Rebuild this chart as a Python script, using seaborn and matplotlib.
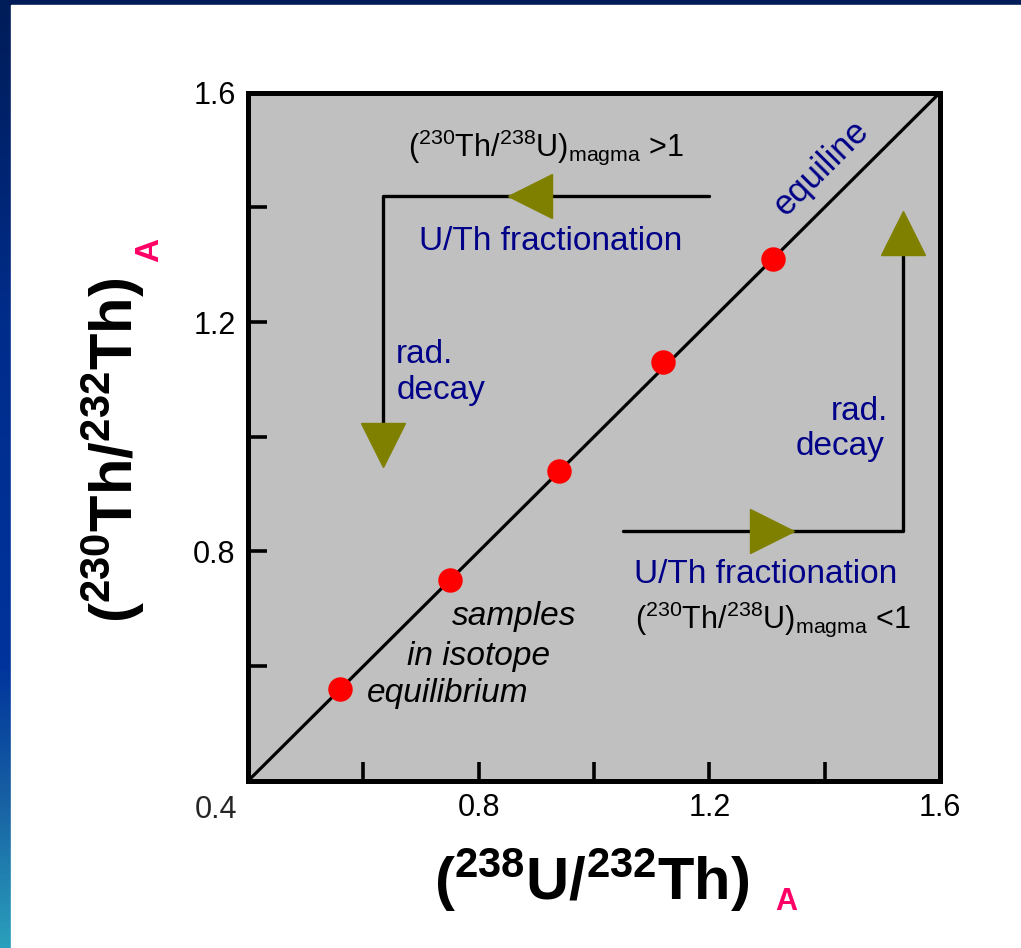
import numpy as np
import pandas as pd
import matplotlib
matplotlib.use("Agg")
import matplotlib.pyplot as plt
import seaborn as sns
from matplotlib.colors import LinearSegmentedColormap
from matplotlib.patches import Rectangle

# ---------------- data ----------------
sample_x = [0.56, 0.75, 0.94, 1.12, 1.31]
sample_y = [0.56, 0.75, 0.94, 1.13, 1.31]
equiline = [0.4, 1.6]
ticks = [0.4, 0.6, 0.8, 1.0, 1.2, 1.4, 1.6]
tick_labels = ["", "", "0.8", "", "1.2", "", "1.6"]
corner_label = "0.4"
upper_path_x = [1.2, 0.634, 0.634]
upper_path_y = [1.42, 1.42, 1.02]
lower_path_x = [1.05, 1.536, 1.536]
lower_path_y = [0.836, 0.836, 1.32]
arrow_x = [0.889, 0.634, 1.309, 1.536]
arrow_y = [1.42, 0.986, 0.836, 1.355]
arrow_markers = ["<", "v", ">", "^"]

NAVY = "#000088"
OLIVE = "#808000"
PINK = "#ff0066"

sns.set_style("white")
plt.rcParams["font.family"] = ["Liberation Sans", "DejaVu Sans"]
plt.rcParams["mathtext.fontset"] = "custom"
plt.rcParams["mathtext.rm"] = "Liberation Sans"
plt.rcParams["mathtext.it"] = "Liberation Sans:italic"
plt.rcParams["mathtext.bf"] = "Liberation Sans:bold"

fig = plt.figure(figsize=(10.21, 9.48), dpi=100)

# background frame (blue gradient border + white sheet)
bg = fig.add_axes([0, 0, 1, 1], zorder=-10)
cmap = LinearSegmentedColormap.from_list(
    "slide", [(0.0, "#001c58"), (0.35, "#002d8c"), (0.7, "#00339c"),
              (0.85, "#1862a4"), (1.0, "#2aa0bc")])
grad = np.linspace(0, 1, 256).reshape(-1, 1)
bg.imshow(grad, aspect="auto", extent=[0, 1, 0, 1], cmap=cmap)
bg.add_patch(Rectangle((11 / 1021, 0), 1, (948 - 5) / 948, color="white"))
bg.set_xlim(0, 1)
bg.set_ylim(0, 1)
bg.axis("off")

ax = fig.add_axes([0.2429, 0.1762, 0.6778, 0.7262])
ax.set_facecolor("#c0c0c0")

# equiline
ax.plot(equiline, equiline, color="black", lw=2.3, zorder=2)

# evolution paths
ax.plot(upper_path_x, upper_path_y, color="black", lw=2.4, zorder=2)
ax.plot(lower_path_x, lower_path_y, color="black", lw=2.4, zorder=2)
for xa, ya, m in zip(arrow_x, arrow_y, arrow_markers):
    ax.plot([xa], [ya], marker=m, markersize=32, color=OLIVE,
            markeredgecolor=OLIVE, linestyle="none", zorder=3)

# samples
df = pd.DataFrame({"x": sample_x, "y": sample_y})
sns.scatterplot(data=df, x="x", y="y", ax=ax, color="red", s=310,
                edgecolor="red", linewidth=0, zorder=4, legend=False)

ax.set_xlim(0.4, 1.6)
ax.set_ylim(0.4, 1.6)
ax.set_xticks(ticks, tick_labels)
ax.set_yticks(ticks, tick_labels)
ax.tick_params(direction="in", length=14, width=2.6, labelsize=22,
               pad=9, colors="black", bottom=True, left=True,
               top=False, right=False)
for s in ax.spines.values():
    s.set_linewidth(3.6)
    s.set_color("black")
ax.set_xlabel("")
ax.set_ylabel("")

ax.annotate(corner_label, xy=(0, 0), xycoords="axes fraction",
            xytext=(-23, -21), textcoords="offset points",
            ha="center", va="center", fontsize=22)

# annotations
magma_gt = "(" + r"$^{230}$" + "Th/" + r"$^{238}$" + "U)" + r"$_{\mathrm{magma}}$" + " >1"
magma_lt = "(" + r"$^{230}$" + "Th/" + r"$^{238}$" + "U)" + r"$_{\mathrm{magma}}$" + " <1"
ax.text(0.677, 1.49, magma_gt, ha="left", va="baseline", fontsize=22, color="black")
ax.text(0.925, 1.326, "U/Th fractionation", ha="center", va="baseline",
        fontsize=24, color=NAVY)
ax.text(0.657, 1.129, "rad.", ha="left", va="baseline", fontsize=24, color=NAVY)
ax.text(0.657, 1.065, "decay", ha="left", va="baseline", fontsize=24, color=NAVY)
ax.text(1.51, 1.03, "rad.", ha="right", va="baseline", fontsize=24, color=NAVY)
ax.text(1.503, 0.969, "decay", ha="right", va="baseline", fontsize=24, color=NAVY)
ax.text(1.298, 0.745, "U/Th fractionation", ha="center", va="baseline",
        fontsize=24, color=NAVY)
ax.text(1.071, 0.667, magma_lt, ha="left", va="baseline", fontsize=22, color="black")
ax.text(1.394, 1.468, "equiline", rotation=45, ha="center", va="center",
        fontsize=25, color=NAVY, rotation_mode="anchor")
ax.text(0.754, 0.672, "samples", ha="left", va="baseline", fontsize=24,
        style="italic", color="black")
ax.text(0.676, 0.602, "in isotope", ha="left", va="baseline", fontsize=24,
        style="italic", color="black")
ax.text(0.606, 0.538, "equilibrium", ha="left", va="baseline", fontsize=24,
        style="italic", color="black")

# axis titles
ylab = "(" + r"$^{\mathbf{230}}$" + "Th/" + r"$^{\mathbf{232}}$" + "Th)"
xlab = "(" + r"$^{\mathbf{238}}$" + "U/" + r"$^{\mathbf{232}}$" + "Th)"
fig.text(113 / 1021, 1 - 450 / 948, ylab, rotation=90, ha="center", va="center",
         fontsize=43, fontweight="bold", color="black")
fig.text(592 / 1021, 1 - 880 / 948, xlab, ha="center", va="center",
         fontsize=43, fontweight="bold", color="black")
fig.text(150 / 1021, 1 - 250 / 948, "A", rotation=90, ha="center", va="center",
         fontsize=24, fontweight="bold", color=PINK)
fig.text(786 / 1021, 1 - 902 / 948, "A", ha="center", va="center",
         fontsize=22, fontweight="bold", color=PINK)

fig.savefig("out.png", dpi=100)
